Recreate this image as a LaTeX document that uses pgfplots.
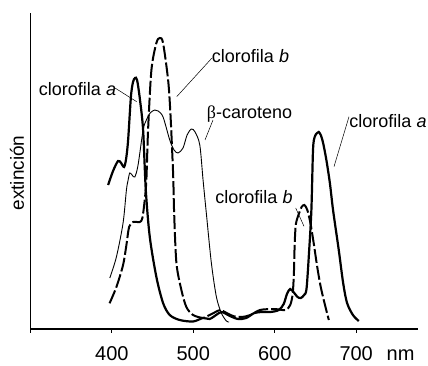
\documentclass[border=0pt]{standalone}
\usepackage{fontspec}
\setmainfont{Liberation Sans}
\newfontfamily\greekserif{Liberation Serif}
\usepackage{pgfplots}
\pgfplotsset{compat=1.18}
\begin{document}
\begin{tikzpicture}[x=1bp,y=1bp]
\begin{axis}[
  at={(37.3,37)}, anchor=south west,
  scale only axis, width=387.7bp, height=316bp,
  xmin=300, xmax=776, ymin=0, ymax=316,
  axis x line*=bottom, axis y line*=left,
  axis line style={-, line width=1.1bp},
  xtick={300,400,500,600,700}, xticklabels={,400,500,600,700},
  extra x ticks={754.5}, extra x tick labels={nm},
  extra x tick style={tick style={draw=none}},
  tick align=outside, major tick length=4bp, ytick=\empty,
  tick style={black, line width=1bp},
  xticklabel style={font=\fontsize{20bp}{22bp}\selectfont, anchor=base, yshift=-27bp},
  clip=false,
]
% clorofila a
\addplot[black, line width=2.2bp, smooth, tension=0.5] coordinates {
(395.4,144)(401.5,158)(407.6,168)(411.4,166)(415,162)(417.5,170)(420,189)(423.4,232)(426,247)(428.5,251)(431,249)(434.6,229)(438.4,199)(441.7,139)(446.6,92)(454.7,52)(462.9,26)(471.1,14)(483.4,9)(499.7,7.5)(512,11)(520,10)(528,14)(535,17)(545,13)(555,10)(565,11)(575,16)(585,17)(595,17)(605,19)(611,25)(615,35)(619,40)(624,36)(628,32)(632,31)(636,34)(639,40)(642,75)(645,119)(647,179)(649,192)(652,196)(654,197)(656.5,194)(659.4,186)(663.4,169)(667.7,146)(671.6,119)(678.6,79)(684,46)(688.8,26)(696,14)(703.2,8)
};
% clorofila b
\addplot[black, line width=2bp, smooth, tension=0.5, dash pattern=on 14bp off 3bp] coordinates {
(397.2,25.7)(405.6,42)(413.8,64)(417.9,84)(421.2,102)(426.1,107)(434.3,107)(437.5,111)(440.4,129)(442.4,149)(444.5,199)(448.6,259)(454.7,286)(458.9,291)(462.9,286)(469.1,249)(471.9,216)(474.4,172)(475.5,149)(476.5,116)(479.3,66)(485.4,39)(491.5,22)(499.7,14)(512,11)(517,12.7)(525,16)(533,19)(541,16)(549.7,12.7)(560,12)(570,14)(582,19)(599,20)(613,19)(619,24)(622,35)(623.5,55)(624.5,85)(626,105)(630,116)(633,122)(636.4,124)(640,119)(643.8,106)(648,85)(652,63)(656,44)(660.2,29)(666.4,9)
};
% beta-caroteno
\addplot[black, line width=0.9bp, smooth, tension=0.5] coordinates {
(397.5,51)(405.6,72)(413.8,106)(417.9,139)(420,149)(422,156)(424.9,154)(428.2,152)(432.2,164)(438.4,199)(442.4,209)(447,216)(452.7,219)(456.8,218)(462.9,212)(471.1,189)(476.4,179)(481.3,176)(487.4,181)(492.4,194)(497.7,200)(502.2,197)(508,184)(512,149)(516,116)(522.2,66)(528.4,32)(534.5,16)(540.6,8)(544,7)
};
\end{axis}
\begin{scope}[font=\fontsize{18bp}{20bp}\selectfont]
\node[anchor=base, inner sep=0] at (77.5,271) {clorofila \textit{a}};
\node[anchor=base, inner sep=0] at (250.5,304) {clorofila \textit{b}};
\node[anchor=base, inner sep=0] at (249.5,248) {{\greekserif β}-caroteno};
\node[anchor=base, inner sep=0] at (388,239) {clorofila \textit{a}};
\node[anchor=base, inner sep=0] at (254,163) {clorofila \textit{b}};
\end{scope}
\node[rotate=90, inner sep=0, font=\fontsize{19bp}{21bp}\selectfont] at (17,193) {extinción};
\draw[line width=0.5bp] (115,278) -- (136.7,264.3);
\draw[line width=0.5bp] (211.7,307.7) -- (176.7,269.3);
\draw[line width=0.5bp] (213,246) -- (205,226);
\draw[line width=0.5bp] (349,249.3) -- (334,199.3);
\draw[line width=0.5bp] (295.7,158) -- (304,139.7);
\pgfresetboundingbox
\path[use as bounding box] (0,0) rectangle (428,366);
\end{tikzpicture}
\end{document}
